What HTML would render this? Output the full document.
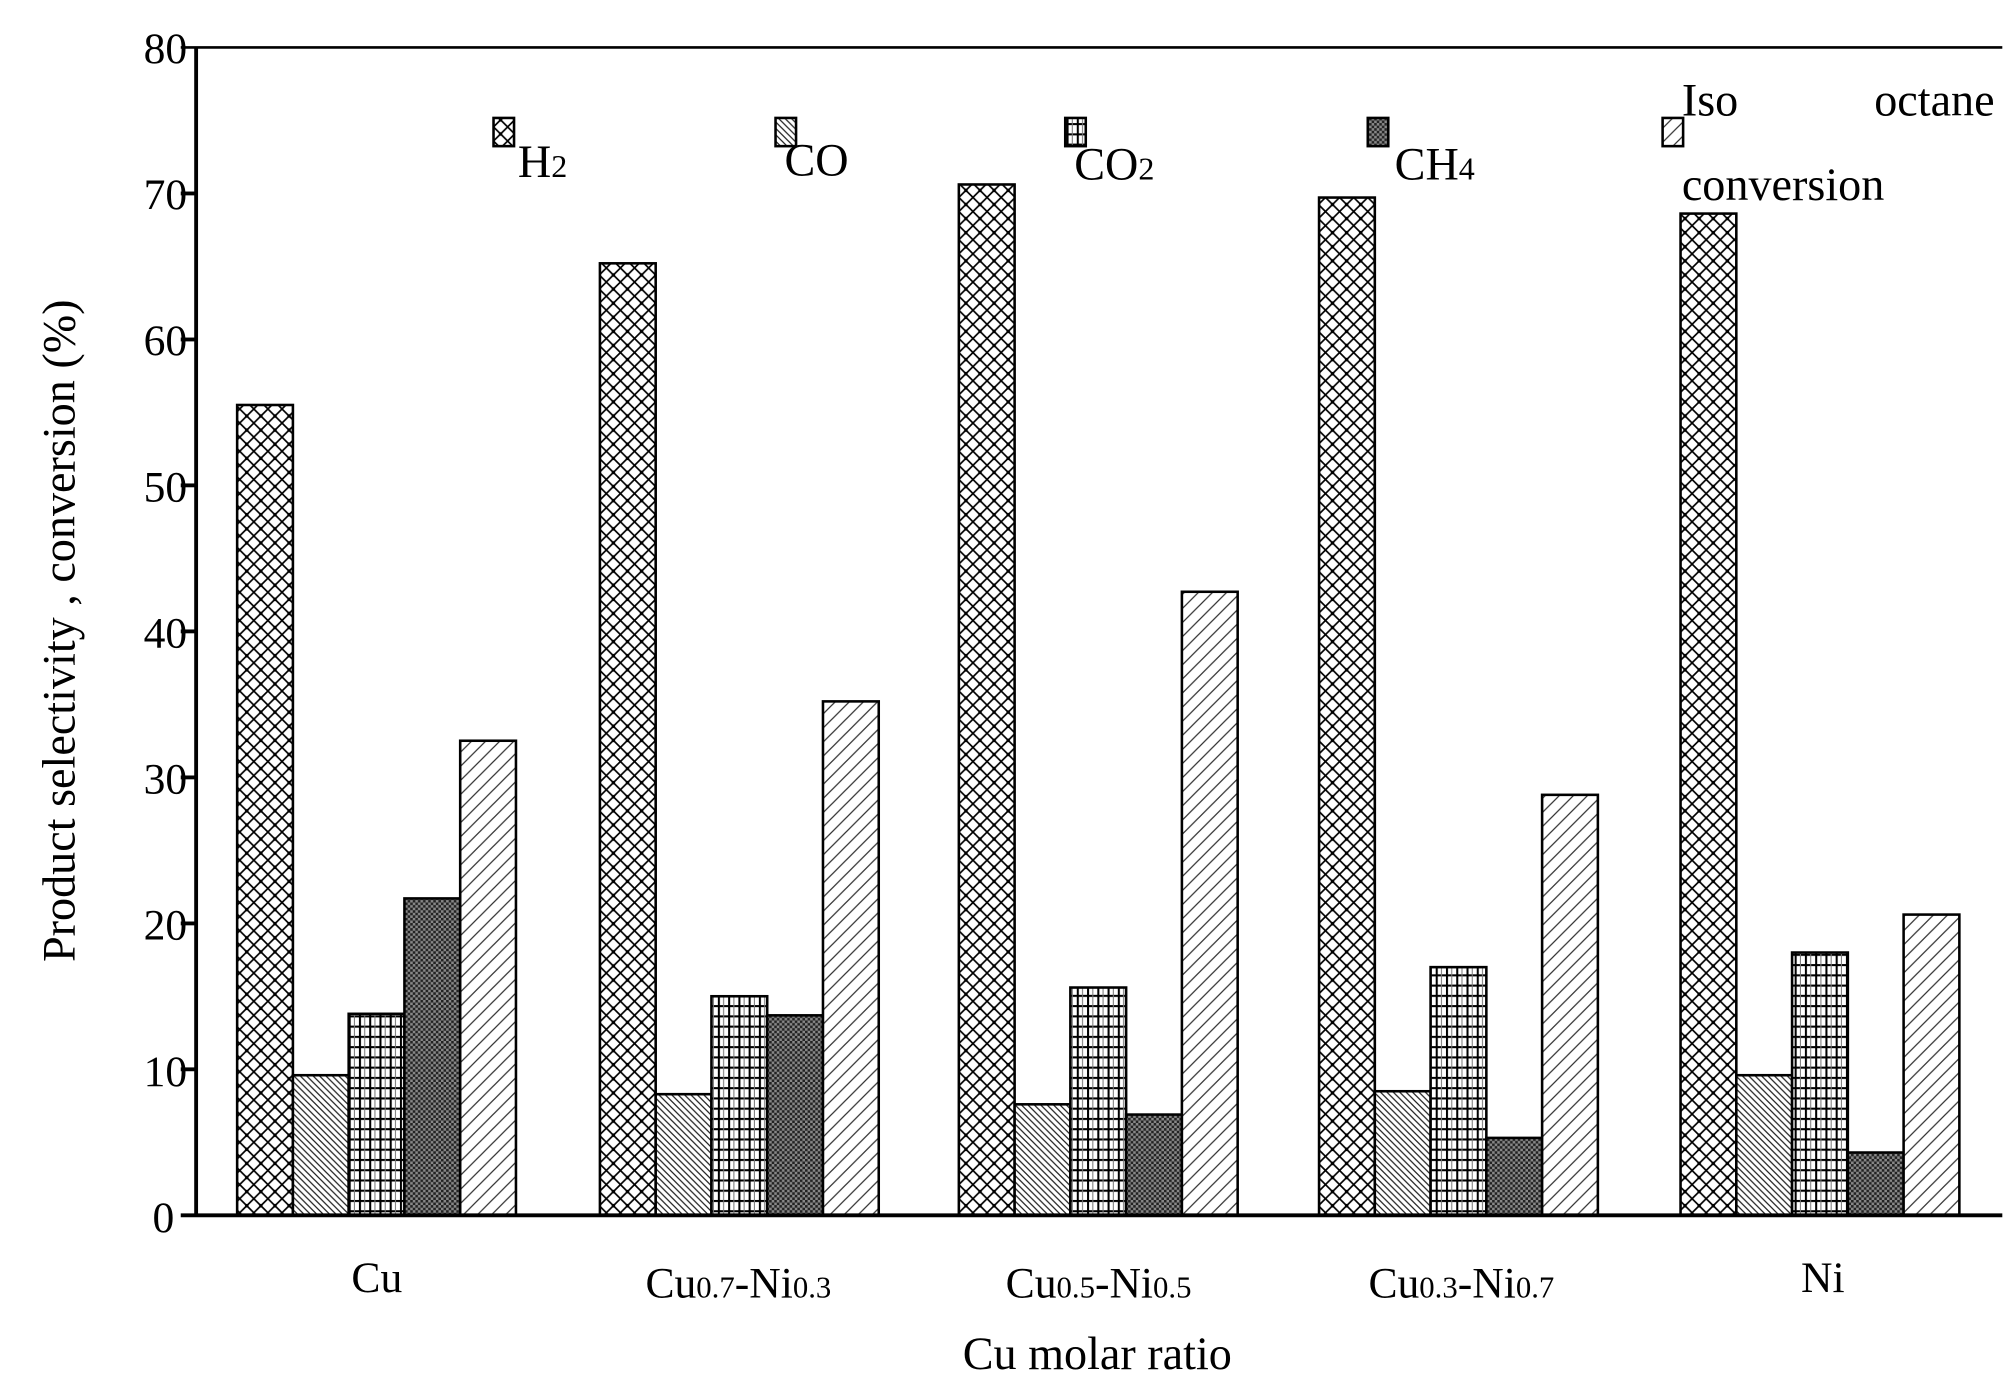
<!DOCTYPE html>
<html><head><meta charset="utf-8"><style>html,body{margin:0;padding:0;background:#fff}svg{display:block}</style></head>
<body>
<svg width="2010" height="1382" viewBox="0 0 1568 1078" preserveAspectRatio="none" xmlns="http://www.w3.org/2000/svg" font-family="Liberation Serif, serif">
<defs>
<pattern id="h2" width="11" height="11" patternUnits="userSpaceOnUse">
<rect width="11" height="11" fill="#fff"/>
<path d="M0 0L11 11M11 0L0 11" stroke="#000" stroke-width="1.3"/>
<circle cx="5.5" cy="5.5" r="1.4" fill="#000"/>
</pattern>
<pattern id="co" width="5" height="5" patternUnits="userSpaceOnUse">
<rect width="5" height="5" fill="#fff"/>
<path d="M0 0L5 5M-1 4L1 6M4 -1L6 1" stroke="#222" stroke-width="1"/>
</pattern>
<pattern id="co2" width="8" height="8" patternUnits="userSpaceOnUse">
<rect width="8" height="8" fill="#fff"/>
<path d="M0 0.8H8M0.8 0V8" stroke="#000" stroke-width="1.6"/>
<path d="M4.5 0V8" stroke="#777" stroke-width="0.8"/>
</pattern>
<pattern id="ch4" width="4" height="4" patternUnits="userSpaceOnUse">
<rect width="4" height="4" fill="#888"/>
<rect width="2" height="2" fill="#222"/><rect x="2" y="2" width="2" height="2" fill="#222"/>
</pattern>
<pattern id="iso" width="11" height="11" patternUnits="userSpaceOnUse">
<rect width="11" height="11" fill="#fff"/>
<path d="M0 11L11 0M-2 2L2 -2M9 13L13 9" stroke="#333" stroke-width="1"/>
</pattern>
</defs>
<g stroke="#000" stroke-width="2">
<rect x="185" y="315.9" width="43.5" height="632.1" fill="url(#h2)"/>
<rect x="228.5" y="838.7" width="43.5" height="109.3" fill="url(#co)"/>
<rect x="272" y="790.8" width="43.5" height="157.2" fill="url(#co2)"/>
<rect x="315.5" y="700.8" width="43.5" height="247.2" fill="url(#ch4)"/>
<rect x="359" y="577.8" width="43.5" height="370.2" fill="url(#iso)"/>

<rect x="468" y="205.4" width="43.5" height="742.6" fill="url(#h2)"/>
<rect x="511.5" y="853.5" width="43.5" height="94.5" fill="url(#co)"/>
<rect x="555" y="777.1" width="43.5" height="170.9" fill="url(#co2)"/>
<rect x="598.5" y="792" width="43.5" height="156" fill="url(#ch4)"/>
<rect x="642" y="547.1" width="43.5" height="400.9" fill="url(#iso)"/>

<rect x="748" y="143.9" width="43.5" height="804.1" fill="url(#h2)"/>
<rect x="791.5" y="861.4" width="43.5" height="86.6" fill="url(#co)"/>
<rect x="835" y="770.3" width="43.5" height="177.7" fill="url(#co2)"/>
<rect x="878.5" y="869.4" width="43.5" height="78.6" fill="url(#ch4)"/>
<rect x="922" y="461.6" width="43.5" height="486.4" fill="url(#iso)"/>

<rect x="1029" y="154.1" width="43.5" height="793.9" fill="url(#h2)"/>
<rect x="1072.5" y="851.2" width="43.5" height="96.8" fill="url(#co)"/>
<rect x="1116" y="754.4" width="43.5" height="193.6" fill="url(#co2)"/>
<rect x="1159.5" y="887.6" width="43.5" height="60.4" fill="url(#ch4)"/>
<rect x="1203" y="620" width="43.5" height="328" fill="url(#iso)"/>

<rect x="1311" y="166.6" width="43.5" height="781.4" fill="url(#h2)"/>
<rect x="1354.5" y="838.7" width="43.5" height="109.3" fill="url(#co)"/>
<rect x="1398" y="743" width="43.5" height="205" fill="url(#co2)"/>
<rect x="1441.5" y="899" width="43.5" height="49" fill="url(#ch4)"/>
<rect x="1485" y="713.4" width="43.5" height="234.6" fill="url(#iso)"/>
</g>
<!-- axes -->
<line x1="153" y1="37" x2="153" y2="949" stroke="#000" stroke-width="3"/>
<line x1="141" y1="37" x2="1562" y2="37" stroke="#000" stroke-width="2"/>
<line x1="141" y1="948" x2="1562" y2="948" stroke="#000" stroke-width="3"/>
<g stroke="#000" stroke-width="3">
<line x1="141" x2="153" y1="150.9" y2="150.9"/><line x1="141" x2="153" y1="264.8" y2="264.8"/>
<line x1="141" x2="153" y1="378.6" y2="378.6"/><line x1="141" x2="153" y1="492.5" y2="492.5"/>
<line x1="141" x2="153" y1="606.4" y2="606.4"/><line x1="141" x2="153" y1="720.3" y2="720.3"/>
<line x1="141" x2="153" y1="834.1" y2="834.1"/>
</g>
<g font-size="34" text-anchor="end" fill="#000">
<text x="146" y="49">80</text><text x="146" y="163">70</text><text x="146" y="277">60</text>
<text x="146" y="391">50</text><text x="146" y="505">40</text><text x="146" y="619">30</text>
<text x="146" y="733">20</text><text x="146" y="847">10</text><text x="136" y="961">0</text>
</g>
<text transform="translate(58,492) rotate(-90)" font-size="36" text-anchor="middle">Product selectivity , conversion (%)</text>
<g font-size="34" text-anchor="middle">
<text x="294" y="1008">Cu</text>
<text x="576" y="1012">Cu<tspan font-size="24">0.7</tspan>-Ni<tspan font-size="24">0.3</tspan></text>
<text x="857" y="1012">Cu<tspan font-size="24">0.5</tspan>-Ni<tspan font-size="24">0.5</tspan></text>
<text x="1140" y="1012">Cu<tspan font-size="24">0.3</tspan>-Ni<tspan font-size="24">0.7</tspan></text>
<text x="1422" y="1008">Ni</text>
<text x="856" y="1068" font-size="36">Cu molar ratio</text>
</g>
<!-- legend -->
<g stroke="#000" stroke-width="2">
<rect x="385" y="92" width="16" height="22" fill="url(#h2)"/>
<rect x="605" y="92" width="16" height="22" fill="url(#co)"/>
<rect x="831" y="92" width="16" height="22" fill="url(#co2)"/>
<rect x="1067" y="92" width="16" height="22" fill="url(#ch4)"/>
<rect x="1297" y="92" width="16" height="22" fill="url(#iso)"/>
</g>
<g font-size="36">
<text x="404" y="138">H<tspan font-size="25">2</tspan></text>
<text x="612" y="137">CO</text>
<text x="838" y="140">CO<tspan font-size="25">2</tspan></text>
<text x="1088" y="140">CH<tspan font-size="25">4</tspan></text>
<text x="1312" y="90">Iso</text><text x="1556" y="90" text-anchor="end">octane</text>
<text x="1312" y="156">conversion</text>
</g>
</svg>
</body></html>
